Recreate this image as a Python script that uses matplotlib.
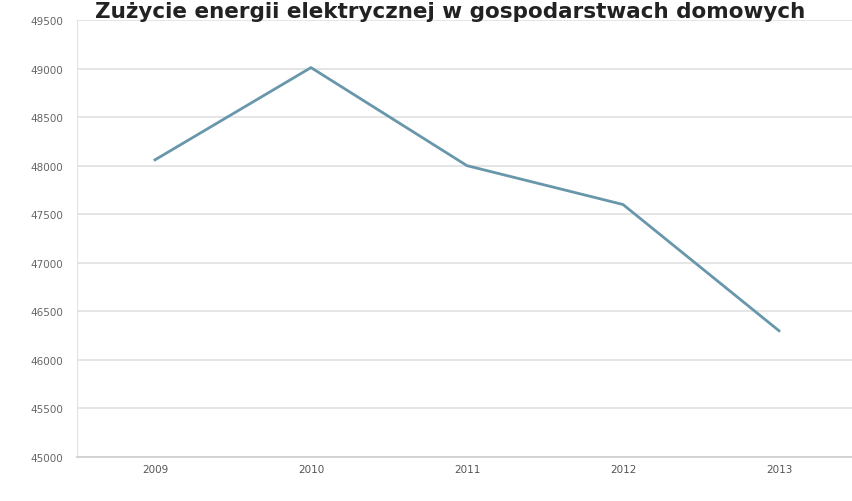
import matplotlib
matplotlib.use("Agg")
import matplotlib.pyplot as plt

years = ["2009", "2010", "2011", "2012", "2013"]
consumption = [48060, 49010, 48000, 47600, 46300]
y_ticks = [45000, 45500, 46000, 46500, 47000, 47500, 48000, 48500, 49000, 49500]
title = "Zużycie energii elektrycznej w gospodarstwach domowych"

W, H = 852, 502
fig = plt.figure(figsize=(W / 100, H / 100), dpi=100)
fig.patch.set_facecolor("white")

left_px, right_px, top_px, bottom_px = 77, 857, 21, 458
ax = fig.add_axes([left_px / W, 1 - bottom_px / H,
                   (right_px - left_px) / W, (bottom_px - top_px) / H])
ax.set_facecolor("white")

x = list(range(len(years)))
ax.plot(x, consumption, color="#6897ab", lw=2.0, solid_joinstyle="round")

ax.set_xlim(-0.5, len(years) - 0.5)
ax.set_ylim(y_ticks[0], y_ticks[-1])
ax.set_yticks(y_ticks)
ax.set_yticklabels([str(v) for v in y_ticks])
ax.set_xticks(x)
ax.set_xticklabels(years)
ax.grid(axis="y", color="#dedede", lw=1.1)
ax.set_axisbelow(True)

for s in ("top", "right"):
    ax.spines[s].set_visible(False)
ax.spines["left"].set_color("#e2e2e2")
ax.spines["bottom"].set_color("#d0d0d0")
ax.spines["bottom"].set_linewidth(1.3)

ax.tick_params(axis="y", length=0, pad=10, labelsize=7.5, labelcolor="#666666")
ax.tick_params(axis="x", length=0, pad=5, labelsize=7.5, labelcolor="#555555")

fig.text(95 / W, 1 - 17.5 / H, title, fontsize=15.5, fontweight="bold",
         family="DejaVu Sans", color="#222222", ha="left", va="baseline")

fig.savefig("out.png", dpi=100)
